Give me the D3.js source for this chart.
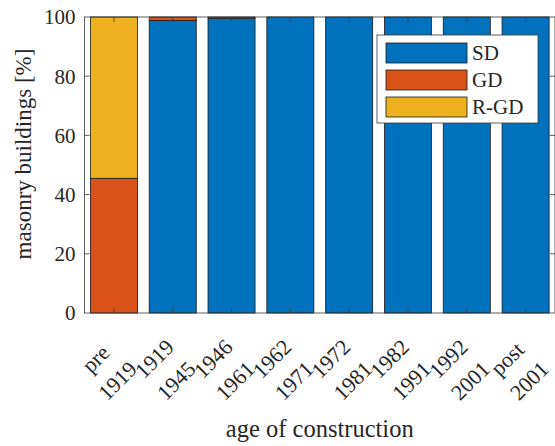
<!DOCTYPE html>
<html lang="en">
<head>
  <meta charset="utf-8">
  <title>masonry buildings by age of construction</title>
  <script src="https://cdn.jsdelivr.net/npm/d3@7"></script>
  <style>
    body { margin: 0; background: #fff; }
    svg text { font-family: "Liberation Serif", serif; fill: #262626; }
  </style>
</head>
<body>
<script>
  // data
  const periods = [["pre", "1919"], ["1919", "1945"], ["1946", "1961"], ["1962", "1971"],
                   ["1972", "1981"], ["1982", "1991"], ["1992", "2001"], ["post", "2001"]];
  const sd  = [0, 98.8, 99.6, 100, 100, 100, 100, 100];
  const gd  = [45.5, 1.2, 0.4, 0, 0, 0, 0, 0];
  const rgd = [54.5, 0, 0, 0, 0, 0, 0, 0];
  const seriesNames = ["SD", "GD", "R-GD"];
  const colors = ["#0072BD", "#D95319", "#EDB120"];
  const yTicks = [0, 20, 40, 60, 80, 100];

  const w = 555, h = 446;
  const mLeft = 84.5, mRight = 555, mTop = 17, mBottom = 313;

  const rows = periods.map(function (p, i) {
    return { idx: i, SD: sd[i], GD: gd[i], "R-GD": rgd[i] };
  });
  const stacked = d3.stack().keys(seriesNames)(rows);

  // xlim [0.5, 8.5] like the original, bars width 0.8
  const x = d3.scaleLinear().domain([0.5, periods.length + 0.5]).range([mLeft, mRight]);
  const y = d3.scaleLinear().domain([0, 100]).range([mBottom, mTop]);
  const barW = (x(1) - x(0)) * 0.8;

  const svg = d3.select("body").append("svg")
    .attr("width", w).attr("height", h);

  // bars
  svg.selectAll("g.series")
    .data(stacked)
    .enter().append("g")
    .attr("class", "series")
    .attr("fill", function (d, i) { return colors[i]; })
    .selectAll("rect")
    .data(function (d) { return d.filter(function (s) { return s[1] - s[0] > 0; }); })
    .enter().append("rect")
    .attr("x", function (d) { return x(d.data.idx + 1) - barW / 2; })
    .attr("width", barW)
    .attr("y", function (d) { return y(d[1]); })
    .attr("height", function (d) { return y(d[0]) - y(d[1]); })
    .attr("stroke", "#1a1a1a")
    .attr("stroke-width", 0.8);

  // box + ticks
  const axisColor = "#3a3a3a";
  svg.append("rect")
    .attr("x", mLeft).attr("y", mTop)
    .attr("width", mRight - mLeft).attr("height", mBottom - mTop)
    .attr("fill", "none").attr("stroke", axisColor).attr("stroke-width", 0.8);

  const tl = 5;
  const innerY = yTicks.filter(function (t) { return t > 0 && t < 100; });
  svg.selectAll("line.yt")
    .data(innerY)
    .enter().append("line")
    .attr("x1", mLeft).attr("x2", mLeft + tl)
    .attr("y1", function (d) { return y(d); }).attr("y2", function (d) { return y(d); })
    .attr("stroke", axisColor).attr("stroke-width", 0.8);
  svg.selectAll("line.yt2")
    .data(innerY)
    .enter().append("line")
    .attr("x1", mRight - tl).attr("x2", mRight)
    .attr("y1", function (d) { return y(d); }).attr("y2", function (d) { return y(d); })
    .attr("stroke", axisColor).attr("stroke-width", 0.8);
  svg.selectAll("line.xt")
    .data(periods)
    .enter().append("line")
    .attr("x1", function (d, i) { return x(i + 1); }).attr("x2", function (d, i) { return x(i + 1); })
    .attr("y1", mBottom).attr("y2", mBottom - tl)
    .attr("stroke", axisColor).attr("stroke-width", 0.8);
  svg.selectAll("line.xt2")
    .data(periods)
    .enter().append("line")
    .attr("x1", function (d, i) { return x(i + 1); }).attr("x2", function (d, i) { return x(i + 1); })
    .attr("y1", mTop).attr("y2", mTop + tl)
    .attr("stroke", axisColor).attr("stroke-width", 0.8);

  // y tick labels
  svg.selectAll("text.yl")
    .data(yTicks)
    .enter().append("text")
    .attr("x", mLeft - 9)
    .attr("y", function (d) { return y(d); })
    .attr("dy", "0.35em")
    .attr("text-anchor", "end")
    .style("font-size", "21px")
    .text(function (d) { return d; });

  // rotated two-line x tick labels, lines centred like a tabular block
  const lineH = 31;
  const xl = svg.selectAll("text.xl")
    .data(periods)
    .enter().append("text")
    .attr("text-anchor", "middle")
    .style("font-size", "22px")
    .attr("transform", function (d, i) {
      return "translate(" + (x(i + 1) + 2.5) + "," + 348.5 + ") rotate(-45)";
    });
  xl.each(function (d) {
    const t = d3.select(this);
    const spans = d.map(function (s, k) {
      return t.append("tspan").attr("y", k * lineH).text(s);
    });
    const maxW = d3.max(spans, function (s) { return s.node().getComputedTextLength(); });
    spans.forEach(function (s) { s.attr("x", -maxW / 2); });
  });

  // axis titles
  svg.append("text")
    .attr("x", (mLeft + mRight) / 2).attr("y", 437)
    .attr("text-anchor", "middle")
    .style("font-size", "24.5px")
    .text("age of construction");
  svg.append("text")
    .attr("transform", "translate(31,154) rotate(-90)")
    .attr("text-anchor", "middle")
    .style("font-size", "23px")
    .text("masonry buildings [%]");

  // legend
  const lg = svg.append("g");
  lg.append("rect")
    .attr("x", 377).attr("y", 35).attr("width", 161).attr("height", 88)
    .attr("fill", "#fff").attr("stroke", axisColor).attr("stroke-width", 0.8);
  seriesNames.forEach(function (name, i) {
    const yy = 43 + i * 27;
    lg.append("rect")
      .attr("x", 386).attr("y", yy).attr("width", 81).attr("height", 20)
      .attr("fill", colors[i]).attr("stroke", "#1a1a1a").attr("stroke-width", 0.8);
    lg.append("text")
      .attr("x", 472).attr("y", yy + 10).attr("dy", "0.35em")
      .style("font-size", "21px")
      .text(name);
  });
</script>
</body>
</html>
